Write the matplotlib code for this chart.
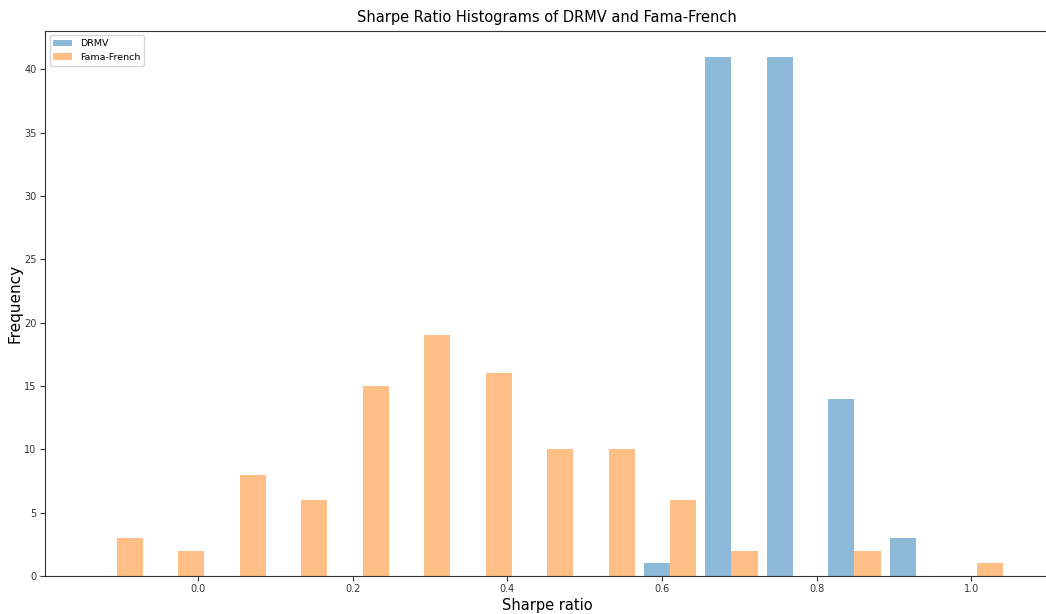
import numpy as np
import matplotlib
matplotlib.use("Agg")
from matplotlib import pyplot as plt

# ------------------------------------
# Histogram counts per Sharpe ratio bin

bin_start = -0.145
bin_width = 0.0795
n_bins = 15

drmv_counts = [0, 0, 0, 0, 0, 0, 0, 0, 0, 1, 41, 41, 14, 3, 0]
ff_counts = [3, 2, 8, 6, 15, 19, 16, 10, 10, 6, 2, 0, 2, 0, 1]
labels = ["DRMV", "Fama-French"]

edges = bin_start + bin_width * np.arange(n_bins + 1)
centers = (edges[:-1] + edges[1:]) / 2

# ------------------------------------
# Plot

fig = plt.figure(figsize=(10.46, 6.14), dpi=100)
ax = fig.add_axes([0.043, 0.062, 0.960, 0.888])

ax.hist(
    [centers, centers],
    bins=edges,
    weights=[drmv_counts, ff_counts],
    rwidth=0.85,
    alpha=0.5,
    label=labels,
)

for side in ax.spines.values():
    side.set_color("#333333")
ax.tick_params(labelsize=7, colors="#333333", length=3.5, pad=2.5)

ax.set_title("Sharpe Ratio Histograms of DRMV and Fama-French", fontsize=10.5)
ax.set_xlabel("Sharpe ratio", fontsize=10.5, labelpad=3)
ax.set_ylabel("Frequency", fontsize=11, labelpad=1)
ax.legend(loc="upper left", fontsize=6.8)

plt.savefig("out.png", dpi=100)
